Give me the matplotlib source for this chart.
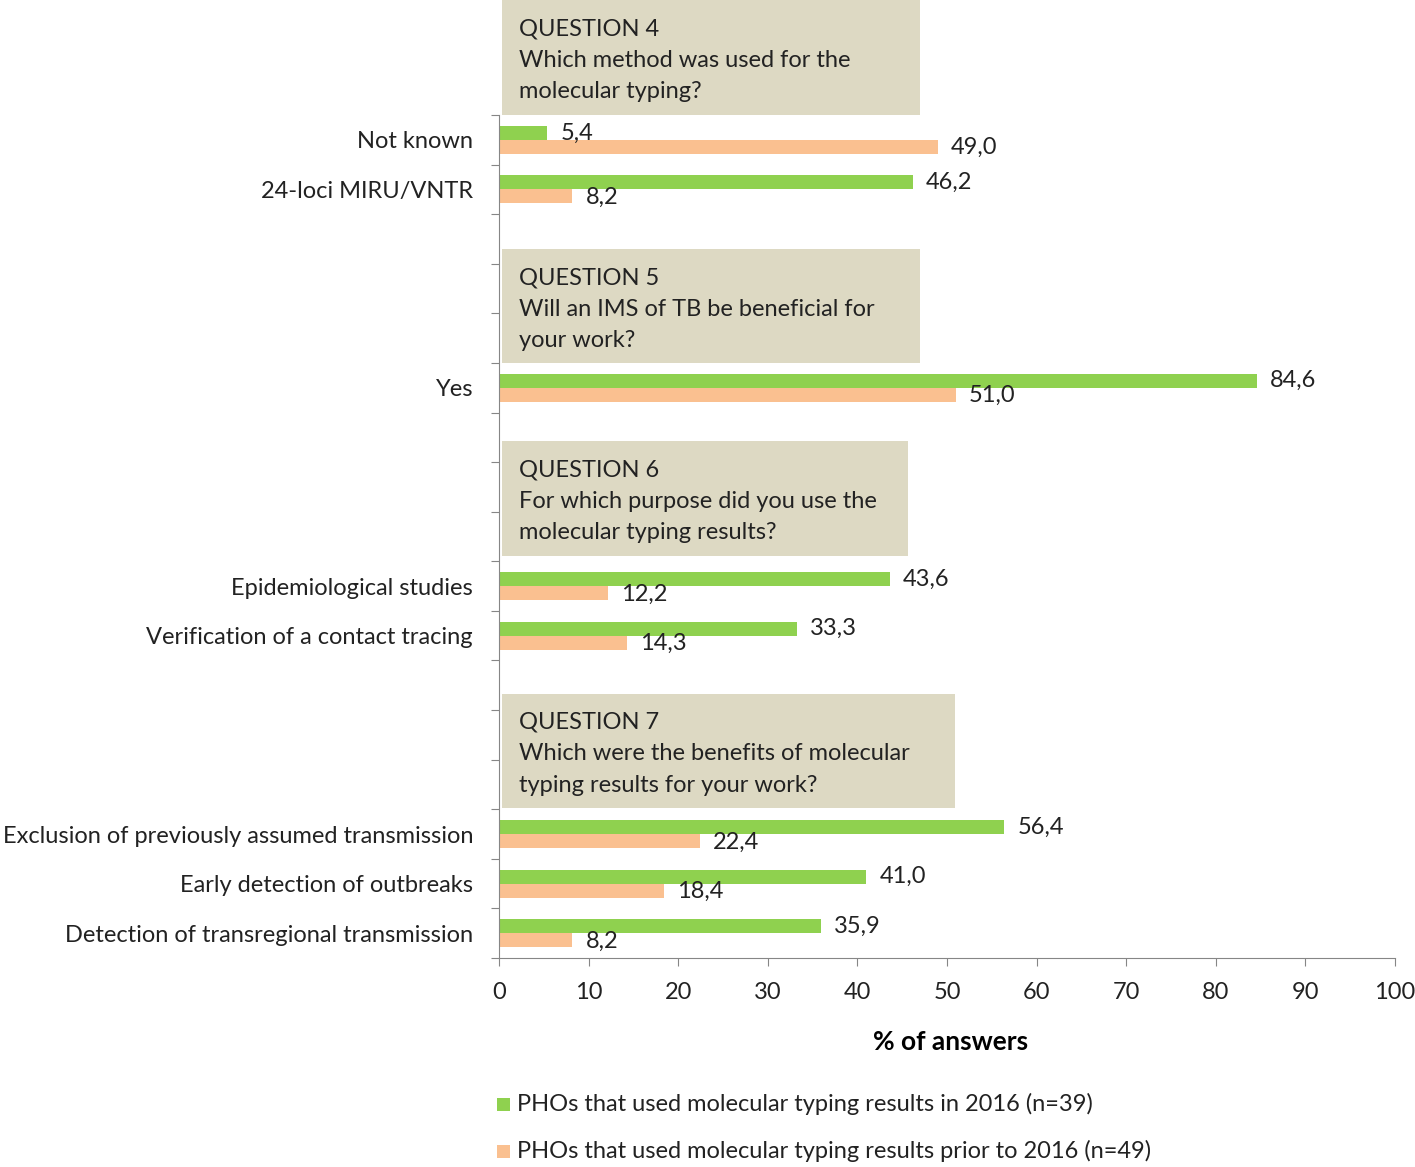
import matplotlib.pyplot as plt
import numpy as np
from matplotlib.patches import Rectangle

plt.rcParams['font.family'] = ['Lato', 'DejaVu Sans']

# slot index (from top) for each answer
slots = [0, 1, 5, 9, 10, 14, 15, 16]
categories = ['Not known', '24-loci MIRU/VNTR', 'Yes', 'Epidemiological studies',
              'Verification of a contact tracing',
              'Exclusion of previously assumed transmission',
              'Early detection of outbreaks',
              'Detection of transregional transmission']
green_vals = [5.4, 46.2, 84.6, 43.6, 33.3, 56.4, 41.0, 35.9]
orange_vals = [49.0, 8.2, 51.0, 12.2, 14.3, 22.4, 18.4, 8.2]

questions = [
    ('QUESTION 4', 'Which method was used for the', 'molecular typing?'),
    ('QUESTION 5', 'Will an IMS of TB be beneficial for', 'your work?'),
    ('QUESTION 6', 'For which purpose did you use the', 'molecular typing results?'),
    ('QUESTION 7', 'Which were the benefits of molecular', 'typing results for your work?'),
]
# box top / bottom (slot units) and right edge (% units)
box_top = [-2.82, 2.20, 6.07, 11.17]
box_bot = [-0.5, 4.5, 8.39, 13.47]
box_right = [47.0, 47.0, 45.6, 50.9]

legend_labels = ['PHOs that used molecular typing results in 2016 (n=39)',
                 'PHOs that used molecular typing results prior to 2016 (n=49)']

GREEN = '#8fd14f'
ORANGE = '#fac090'
BOXC = '#ddd9c3'
TXT = '#222222'
AXC = '#868686'
FS = 17

fig = plt.figure(figsize=(14.15, 11.67), dpi=100)
ax = fig.add_axes([499/1415, 1 - 958/1167, (1395-499)/1415, (958-115)/1167])

y = np.array(slots, dtype=float)
h = 0.28
ax.barh(y - h/2, green_vals, height=h, color=GREEN)
ax.barh(y + h/2, orange_vals, height=h, color=ORANGE)

for yi, g, o in zip(y, green_vals, orange_vals):
    ax.text(g + 1.45, yi - h/2, f'{g:.1f}'.replace('.', ','), va='center', ha='left',
            fontsize=FS, color=TXT)
    ax.text(o + 1.45, yi + h/2 + 0.02, f'{o:.1f}'.replace('.', ','), va='center', ha='left',
            fontsize=FS, color=TXT)

for (q, l1, l2), t, b, r in zip(questions, box_top, box_bot, box_right):
    ax.add_patch(Rectangle((0.33, t), r - 0.33, b - t, facecolor=BOXC, edgecolor='none',
                           clip_on=False, zorder=0))
    for k, line in enumerate((q, l1, l2)):
        ax.text(2.2, t + 0.58 + k * 0.635, line, va='center', ha='left', fontsize=FS,
                color=TXT, clip_on=False)

ax.set_xlim(0, 100)
ax.set_ylim(16.5, -0.5)
ax.set_xticks(np.arange(0, 101, 10))
ax.tick_params(axis='x', direction='out', length=6, color=AXC, labelsize=FS,
               labelcolor=TXT, pad=11.5)

ax.set_yticks(np.arange(-0.5, 17, 1))
ax.set_yticklabels([])
ax.tick_params(axis='y', which='major', direction='out', length=6, color=AXC)
ax.set_yticks(y, minor=True)
ax.set_yticklabels(categories, minor=True)
ax.tick_params(axis='y', which='minor', length=0, pad=18.7, labelsize=FS, labelcolor=TXT)

for s in ['top', 'right']:
    ax.spines[s].set_visible(False)
for s in ['left', 'bottom']:
    ax.spines[s].set_color(AXC)

fig.text(951/1415, 1 - 1042/1167, '% of answers', ha='center', va='center',
         fontsize=19, fontweight='bold', color='black')

for k, (lab, c) in enumerate(zip(legend_labels, [GREEN, ORANGE])):
    yy = 1104 + k * 47
    fig.patches.append(Rectangle((497/1415, 1 - (yy + 7)/1167), 13/1415, 13/1167,
                                 transform=fig.transFigure, facecolor=c, edgecolor='none'))
    fig.text(517/1415, 1 - yy/1167, lab, ha='left', va='center', fontsize=FS, color=TXT)

fig.savefig('out.png', dpi=100)
